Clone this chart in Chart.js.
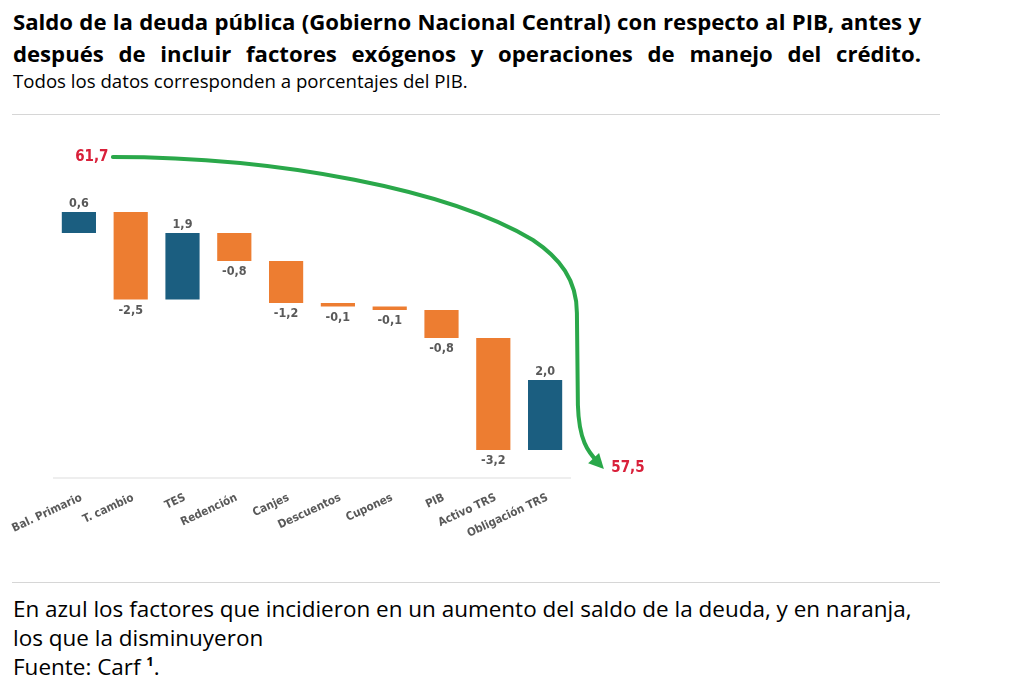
<!DOCTYPE html>
<html><head><meta charset="utf-8">
<script src="https://cdn.jsdelivr.net/npm/chart.js@4/dist/chart.umd.min.js"></script>
<style>
html,body{margin:0;padding:0;background:#fff;width:1024px;height:683px;overflow:hidden;font-family:'Open Sans',Lato,sans-serif;color:#000;}
.t{position:absolute;left:13px;width:908px;font-weight:700;font-size:20px;line-height:26px;text-align:justify;text-align-last:justify;white-space:nowrap;}
.sub{position:absolute;left:13px;top:70px;font-size:16px;line-height:22px;white-space:nowrap;}
.hr{position:absolute;left:12px;width:928px;height:1px;background:#d6d6d6;}
.foot{position:absolute;left:13px;top:594px;font-size:20px;line-height:29px;white-space:nowrap;}
#wrap{position:absolute;left:0;top:115px;width:1024px;height:465px;}
.m{display:inline-block;}
</style></head>
<body>
<div class="t" id="t1" style="top:8px"><span class="m">Saldo de la deuda pública (Gobierno Nacional Central) con respecto al PIB, antes y</span></div>
<div class="t" id="t2" style="top:40px">después de incluir factores exógenos y operaciones de manejo del crédito.</div>
<div class="sub"><span class="m" id="s1">Todos los datos corresponden a porcentajes del PIB.</span></div>
<div class="hr" style="top:114px"></div>
<div id="wrap"><canvas id="c"></canvas></div>
<div class="hr" style="top:582px"></div>
<div class="foot" id="ft"><span class="m" id="f1">En azul los factores que incidieron en un aumento del saldo de la deuda, y en naranja,</span><br>los que la disminuyeron<br>Fuente: Carf <sup style="font-size:13px;font-weight:700;vertical-align:9px;line-height:0">1</sup>.</div>
<script>
// fit text sizes to the reference line widths
(function(){
  const fit = (el, target, sizeEl) => {
    const w = el.getBoundingClientRect().width;
    const fs = parseFloat(getComputedStyle(sizeEl).fontSize);
    return fs * target / w;
  };
  const t1 = document.querySelector('#t1 .m');
  const s = fit(t1, 902, document.getElementById('t1'));
  document.getElementById('t1').style.fontSize = s + 'px';
  document.getElementById('t2').style.fontSize = s + 'px';
  t1.style.display = 'inline';
  document.getElementById('t1').innerHTML = t1.textContent;
  const sub = document.querySelector('.sub');
  sub.style.fontSize = fit(document.getElementById('s1'), 455, sub) + 'px';
  const ft = document.getElementById('ft');
  ft.style.fontSize = fit(document.getElementById('f1'), 899, ft) + 'px';
})();

const categories = ['Bal. Primario','T. cambio','TES','Redención','Canjes','Descuentos','Cupones','PIB','Activo TRS','Obligación TRS'];
const deltas = [0.6,-2.5,1.9,-0.8,-1.2,-0.1,-0.1,-0.8,-3.2,2.0];
const startValue = 61.7;
const endValue = 57.5;

const BLUE = '#1b5e80', ORANGE = '#ed7d31', GREEN = '#2aa84a', RED = '#d9203a', GREY = '#595959';
const fmt = v => v.toFixed(1).replace('.', ',');

// floating ranges of the waterfall
const ranges = [];
let level = startValue;
deltas.forEach(d => { ranges.push([level, +(level + d).toFixed(2)]); level = +(level + d).toFixed(2); });

// annotation arrow path: [category position, value]
const arrowPath = [
  [0.656,63.871],[3.88,63.871],[7.162,62.929],[8.764,61.5],
  [9.286,60.986],[9.614,60.357],[9.614,59.414],
  [9.633,56.786],
  [9.653,55.786],[9.826,55.443],[10.019,55.157]
];
const arrowTip = [10.135,54.957];

const fontCond = "'DejaVu Sans Condensed','Liberation Sans Narrow','DejaVu Sans',sans-serif";

const overlay = {
  id:'overlay',
  afterDatasetsDraw(chart){
    const ctx = chart.ctx, xs = chart.scales.x, ys = chart.scales.y, ca = chart.chartArea;
    const step = xs.getPixelForValue(1) - xs.getPixelForValue(0);
    const X = f => xs.getPixelForValue(0) + f*step;
    const Y = v => ys.getPixelForValue(v);
    ctx.save();
    // baseline
    ctx.strokeStyle = '#e8e8e8'; ctx.lineWidth = 1.5;
    ctx.beginPath(); ctx.moveTo(ca.left, ca.bottom); ctx.lineTo(ca.right, ca.bottom); ctx.stroke();
    // value labels
    const meta = chart.getDatasetMeta(0);
    ctx.fillStyle = GREY; ctx.font = 'bold 12.5px ' + fontCond; ctx.textAlign = 'center'; ctx.textBaseline = 'middle';
    meta.data.forEach((bar, i) => {
      const top = Math.min(bar.y, bar.base), bot = Math.max(bar.y, bar.base);
      if (deltas[i] >= 0) ctx.fillText(fmt(deltas[i]), bar.x, top - 8);
      else ctx.fillText(fmt(deltas[i]), bar.x, bot + 11);
    });
    // category labels (rotated)
    ctx.font = 'bold 11.5px ' + fontCond; ctx.fillStyle = GREY;
    categories.forEach((c, i) => {
      ctx.save();
      ctx.translate(xs.getPixelForValue(i), ca.bottom + 14);
      ctx.rotate(-25 * Math.PI / 180);
      ctx.textAlign = 'right'; ctx.textBaseline = 'top';
      ctx.fillText(c, 0, 0);
      ctx.restore();
    });
    // arrow
    ctx.strokeStyle = GREEN; ctx.fillStyle = GREEN; ctx.lineWidth = 4; ctx.lineCap = 'round'; ctx.lineJoin = 'round';
    const p = arrowPath.map(a => [X(a[0]), Y(a[1])]);
    ctx.beginPath();
    ctx.moveTo(p[0][0], p[0][1]);
    ctx.bezierCurveTo(p[1][0],p[1][1],p[2][0],p[2][1],p[3][0],p[3][1]);
    ctx.bezierCurveTo(p[4][0],p[4][1],p[5][0],p[5][1],p[6][0],p[6][1]);
    ctx.lineTo(p[7][0],p[7][1]);
    ctx.bezierCurveTo(p[8][0],p[8][1],p[9][0],p[9][1],p[10][0],p[10][1]);
    ctx.stroke();
    const tx = X(arrowTip[0]), ty = Y(arrowTip[1]);
    const ang = Math.atan2(ty - p[9][1], tx - p[9][0]);
    const L = 15, W = 7.5;
    ctx.beginPath();
    ctx.moveTo(tx, ty);
    ctx.lineTo(tx - L*Math.cos(ang) + W*Math.sin(ang), ty - L*Math.sin(ang) - W*Math.cos(ang));
    ctx.lineTo(tx - L*Math.cos(ang) - W*Math.sin(ang), ty - L*Math.sin(ang) + W*Math.cos(ang));
    ctx.closePath(); ctx.fill();
    // start / end labels
    ctx.fillStyle = RED; ctx.font = 'bold 15px ' + fontCond; ctx.textAlign = 'center'; ctx.textBaseline = 'middle';
    ctx.fillText(fmt(startValue), X(0.25), Y(63.87));
    ctx.fillText(fmt(endValue), X(10.6), Y(54.99));
    ctx.restore();
  }
};

new Chart(document.getElementById('c'), {
  type:'bar',
  data:{
    labels: categories,
    datasets:[{
      data: ranges,
      backgroundColor: deltas.map(d => d >= 0 ? BLUE : ORANGE),
      borderWidth: 0,
      borderSkipped: false,
      categoryPercentage: 1,
      barPercentage: 0.66,
      minBarLength: 3
    }]
  },
  options:{
    responsive:true, maintainAspectRatio:false, animation:false,
    layout:{padding:{left:53,right:453,top:20,bottom:102}},
    plugins:{legend:{display:false},tooltip:{enabled:false}},
    scales:{
      x:{offset:true, grid:{display:false, drawTicks:false}, border:{display:false}, ticks:{display:false}},
      y:{display:false, min:54.7, max:64.5}
    }
  },
  plugins:[overlay]
});
</script>
</body></html>
